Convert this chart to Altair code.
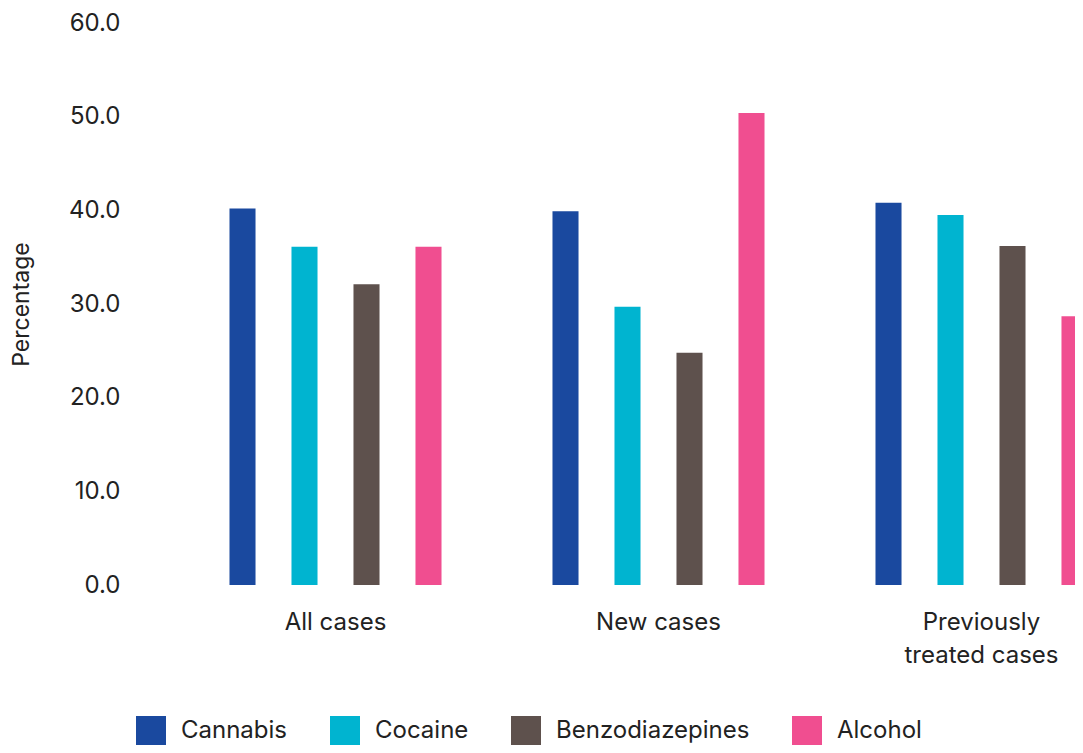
import altair as alt
import pandas as pd

groups = ["All cases", "New cases", "Previously treated cases"]
drugs = ["Cannabis", "Cocaine", "Benzodiazepines", "Alcohol"]
colors = ["#1A499F", "#00B4D0", "#5E514D", "#F04E90"]
values = {
    "Cannabis": [40.2, 39.9, 40.8],
    "Cocaine": [36.1, 29.7, 39.5],
    "Benzodiazepines": [32.1, 24.8, 36.2],
    "Alcohol": [36.1, 50.4, 28.7],
}

rows = []
for d in drugs:
    for g, v in zip(groups, values[d]):
        rows.append({"group": g, "drug": d, "value": v})
df = pd.DataFrame(rows)

FONT = "Inter"
TXT = "#222222"

chart = alt.Chart(df).mark_bar(clip=True).encode(
    x=alt.X("group:N", sort=groups,
            scale=alt.Scale(range=[0, 969], paddingInner=0, paddingOuter=0),
            axis=alt.Axis(title=None, labelAngle=0, domain=False, ticks=False,
                          labelFont=FONT, labelFontSize=24, labelColor=TXT,
                          labelPadding=25, labelLineHeight=33,
                          labelExpr="datum.value == 'Previously treated cases' ? ['Previously', 'treated cases'] : datum.value")),
    xOffset=alt.XOffset("drug:N", sort=drugs,
                        scale=alt.Scale(paddingInner=0.58, paddingOuter=0.895)),
    y=alt.Y("value:Q", scale=alt.Scale(domain=[0, 60]),
            axis=alt.Axis(title="Percentage", values=[0, 10, 20, 30, 40, 50, 60], format=".1f",
                          grid=False, domain=False, ticks=False,
                          labelFont=FONT, labelFontSize=24, labelColor=TXT, labelPadding=54,
                          titleFont=FONT, titleFontSize=23, titleFontWeight="normal", titleColor=TXT,
                          titleX=-153, titleY=281, titleAngle=270, titleAlign="center",
                          titleBaseline="middle")),
    color=alt.Color("drug:N", sort=drugs,
                    scale=alt.Scale(domain=drugs, range=colors),
                    legend=alt.Legend(title=None, orient="none", direction="horizontal",
                                      legendX=-38, legendY=693, padding=0,
                                      symbolType="square", symbolSize=900, symbolStrokeWidth=0,
                                      symbolOpacity=1,
                                      labelFont=FONT, labelFontSize=24, labelColor=TXT,
                                      labelOffset=15, columnPadding=42, labelLimit=400)),
).properties(
    width=901, height=562,
    padding={"left": 166, "top": 15, "right": 0, "bottom": 160},
    autosize="none",
    background="white",
).configure_view(stroke=None)

chart.save("out.html", embed_options={"renderer": "svg", "actions": False})
